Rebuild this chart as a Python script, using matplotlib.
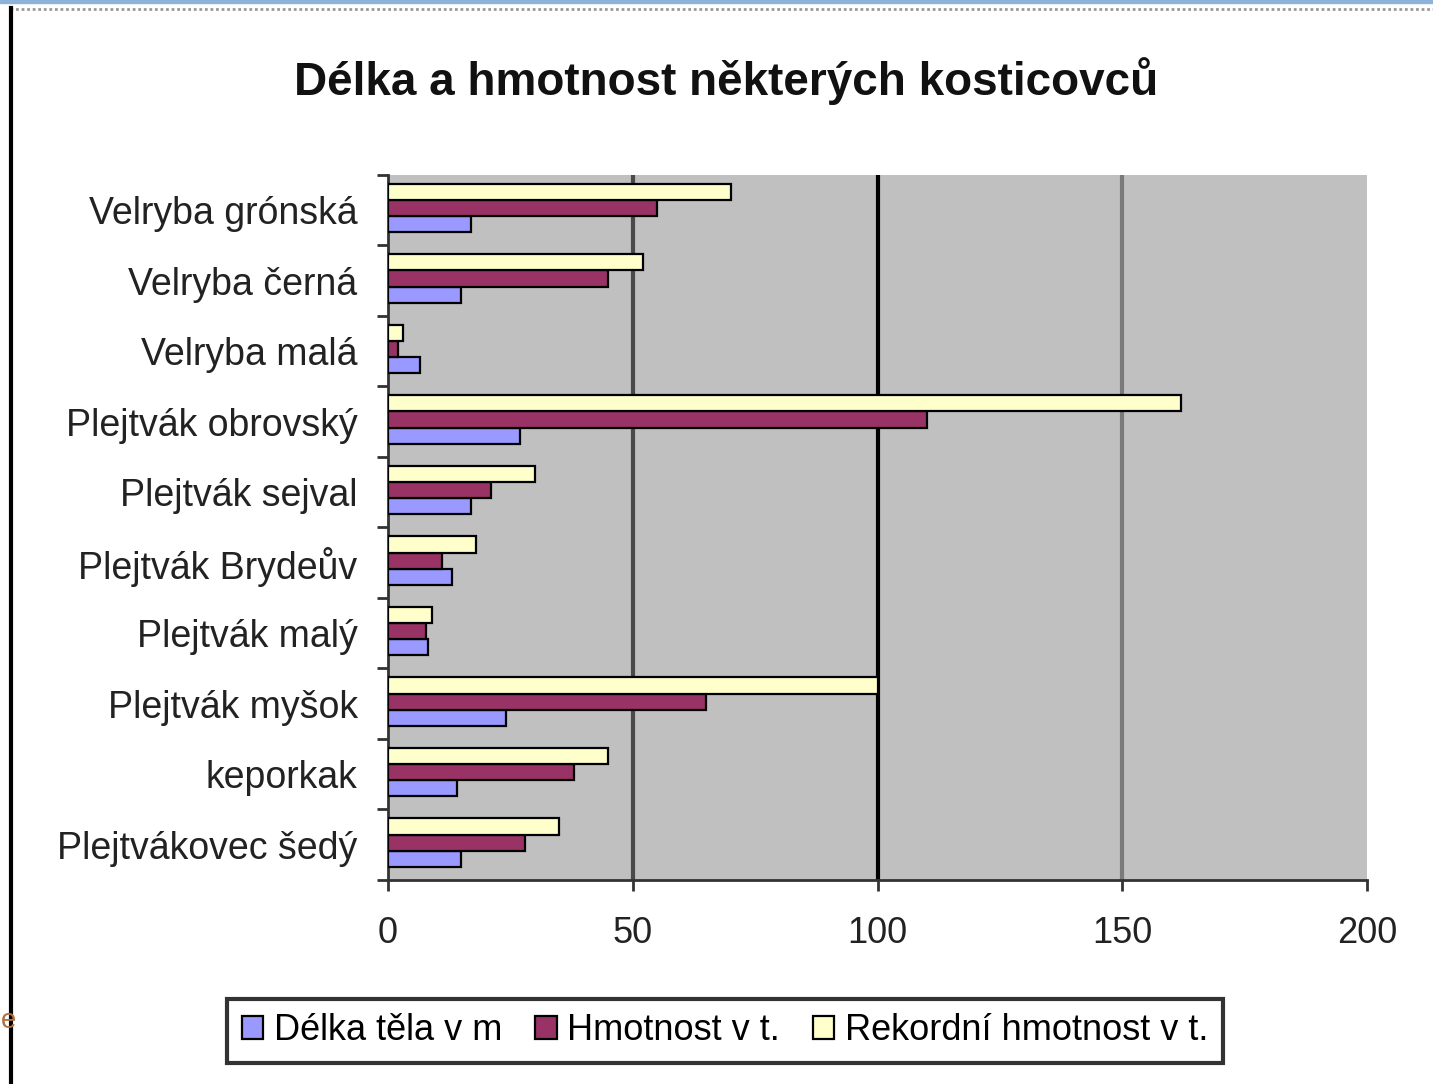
import numpy as np
import matplotlib
matplotlib.use("Agg")
from matplotlib import pyplot as plt
from matplotlib.lines import Line2D
from matplotlib.patches import Rectangle

# data (top category first)
categories = ["Velryba grónská", "Velryba černá", "Velryba malá", "Plejtvák obrovský",
              "Plejtvák sejval", "Plejtvák Brydeův", "Plejtvák malý", "Plejtvák myšok",
              "keporkak", "Plejtvákovec šedý"]
delka = [17, 15, 6.5, 27, 17, 13, 8.2, 24, 14, 15]
hmotnost = [55, 45, 2, 110, 21, 11, 7.8, 65, 38, 28]
rekord = [70, 52, 3, 162, 30, 18, 9, 100, 45, 35]
series_names = ["Délka těla v m", "Hmotnost v t.", "Rekordní hmotnost v t."]
series_colors = ["#9999FF", "#993366", "#FFFFCC"]
x_ticks = [0, 50, 100, 150, 200]

plt.rcParams['font.family'] = ['Liberation Sans', 'DejaVu Sans']

fig = plt.figure(figsize=(14.33, 10.84), dpi=100)
ax = fig.add_axes([0.2708, 0.1882, 0.6832, 0.6504])
ax.set_facecolor("#C0C0C0")

n = len(categories)
y = np.arange(n)[::-1].astype(float)  # first category at top
bar_h = 0.23
offsets = [-bar_h, 0, bar_h]  # blue bottom, maroon middle, yellow top
for vals, off, col, name in zip([delka, hmotnost, rekord], offsets, series_colors, series_names):
    ax.barh(y + off + 0.03, vals, height=bar_h, color=col, edgecolor="black",
            linewidth=1.6, label=name, zorder=3)

# vertical gridlines
grid_colors = {50: "#4a4a4a", 100: "#000000", 150: "#7a7a7a"}
for gx, gc in grid_colors.items():
    ax.axvline(gx, color=gc, linewidth=3, zorder=1)

ax.set_xlim(0, 200)
ax.set_ylim(-0.5, n - 0.5)
ax.set_xticks(x_ticks)
ax.set_xticklabels([str(t) for t in x_ticks])
ax.set_yticks(y)
ax.set_yticklabels(categories)
ax.set_yticks(np.arange(n + 1) - 0.5, minor=True)

ax.tick_params(axis="y", which="major", length=0, pad=22, labelsize=27, labelcolor="#222222")
ax.tick_params(axis="y", which="minor", length=8, width=2, color="#333333")
ax.tick_params(axis="x", which="major", length=8, width=2, color="#333333", pad=18,
               labelsize=26, labelcolor="#222222")

for side in ["top", "right"]:
    ax.spines[side].set_visible(False)
for side in ["left", "bottom"]:
    ax.spines[side].set_color("#333333")
    ax.spines[side].set_linewidth(2)

fig.text(0.507, 0.925, "Délka a hmotnost některých kosticovců", ha="center", va="center",
         fontsize=33, fontweight="bold", color="#111111")

# legend order as in the reference
handles, labels = ax.get_legend_handles_labels()
leg = fig.legend(handles, labels, loc="center", bbox_to_anchor=(0.506, 0.049), ncol=3,
                 fontsize=26, frameon=True, fancybox=False, handlelength=0.6,
                 handleheight=0.6, handletextpad=0.3, columnspacing=0.9,
                 borderpad=0.4, edgecolor="black")
leg.get_frame().set_linewidth(3)

# page decorations around the chart
fig.add_artist(Rectangle((0, 0.997), 1, 0.003, transform=fig.transFigure,
                         color="#8DB4D8", zorder=5))
fig.add_artist(Line2D([0.007, 1], [0.992, 0.992], transform=fig.transFigure,
                      color="#999999", linewidth=2, linestyle=(0, (1, 1))))
fig.add_artist(Line2D([0.0075, 0.0075], [0, 0.993], transform=fig.transFigure,
                      color="black", linewidth=3))
fig.text(0.0005, 0.058, "e", fontsize=20, color="#b07040", ha="left", va="center")

fig.savefig("out.png", dpi=100)
